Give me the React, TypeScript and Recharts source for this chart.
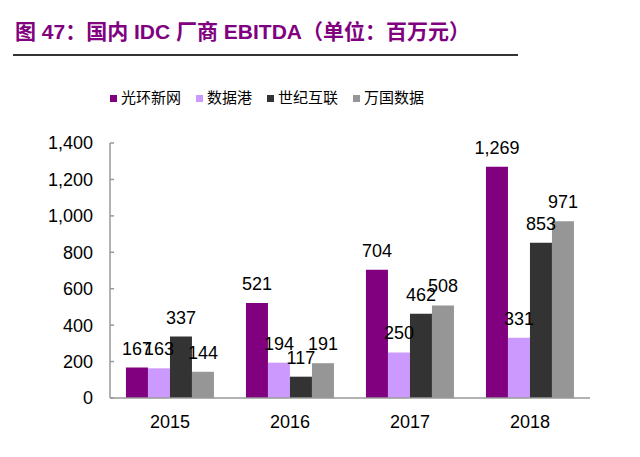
import React from 'react';
import { BarChart, Bar, XAxis, YAxis, LabelList } from 'recharts';

const YEARS = ['2015', '2016', '2017', '2018'];
const GUANGHUAN = [167, 521, 704, 1269];
const SHUJUGANG = [163, 194, 250, 331];
const SHIJI = [337, 117, 462, 853];
const WANGUO = [144, 191, 508, 971];
const Y_TICKS = [0, 200, 400, 600, 800, 1000, 1200, 1400];
const BOUNDARY_TICKS = [1, 2, 3, 4];

const SERIES = [
  { key: 'gh', name: '光环新网', color: '#800080', values: GUANGHUAN },
  { key: 'sjg', name: '数据港', color: '#CC99FF', values: SHUJUGANG },
  { key: 'sj', name: '世纪互联', color: '#333333', values: SHIJI },
  { key: 'wg', name: '万国数据', color: '#969696', values: WANGUO },
];

const data = YEARS.map((year, i) => {
  const row: Record<string, string | number> = { year, pos: i + 0.5 };
  SERIES.forEach(s => { row[s.key] = s.values[i]; });
  return row;
});

const LATIN = '"Liberation Sans", Arial, sans-serif';
const CJK = '"Liberation Sans", "Noto Sans CJK SC", sans-serif';
const fmt = (v: number) => Number(v).toLocaleString('en-US');

export default function App() {
  return (
    <div style={{ position: 'absolute', left: 0, top: 0, width: 640, height: 457, background: '#fff' }}>
      <div
        style={{
          position: 'absolute', left: 15, top: 17, fontFamily: CJK, fontWeight: 'bold',
          fontSize: 21, color: '#800080', lineHeight: '30px', whiteSpace: 'nowrap',
        }}
      >
        图 47：国内 IDC 厂商 EBITDA（单位：百万元）
      </div>
      <div style={{ position: 'absolute', left: 13, top: 54, width: 505, height: 1.5, background: '#333' }} />

      <div style={{ position: 'absolute', left: 110, top: 88, display: 'flex', alignItems: 'center', fontFamily: CJK, fontSize: 15, color: '#000' }}>
        {SERIES.map(s => (
          <div key={s.key} style={{ display: 'flex', alignItems: 'center', marginRight: 15 }}>
            <span style={{ width: 7, height: 7, background: s.color, marginRight: 4, display: 'inline-block' }} />
            <span style={{ lineHeight: '20px' }}>{s.name}</span>
          </div>
        ))}
      </div>

      <BarChart
        width={640}
        height={457}
        data={data}
        margin={{ top: 143, right: 50, bottom: 19, left: 50 }}
        barCategoryGap="13.3%"
        barGap={0}
      >
        <XAxis
          xAxisId="grid"
          type="number"
          dataKey="pos"
          domain={[0, 4]}
          ticks={BOUNDARY_TICKS}
          height={0}
          tick={false}
          tickSize={-4}
          axisLine={false}
          tickLine={{ stroke: '#999', strokeWidth: 1.5 }}
        />
        <XAxis
          dataKey="year"
          height={40}
          tickSize={0}
          tickMargin={17}
          axisLine={{ stroke: '#999', strokeWidth: 1.5 }}
          tick={{ fill: '#000', fontSize: 18, fontFamily: LATIN }}
        />
        <YAxis
          domain={[0, 1400]}
          ticks={Y_TICKS}
          width={60}
          tickSize={-4}
          tickMargin={21}
          tickFormatter={fmt}
          axisLine={{ stroke: '#999', strokeWidth: 1.5 }}
          tickLine={{ stroke: '#999', strokeWidth: 1.5 }}
          tick={{ fill: '#000', fontSize: 18, fontFamily: LATIN }}
        />
        {SERIES.map(s => (
          <Bar key={s.key} dataKey={s.key} name={s.name} fill={s.color} isAnimationActive={false}>
            <LabelList
              dataKey={s.key}
              position="top"
              offset={13}
              formatter={(v: any) => fmt(v)}
              style={{ fill: '#000', fontSize: 18, fontFamily: LATIN }}
            />
          </Bar>
        ))}
      </BarChart>
    </div>
  );
}
